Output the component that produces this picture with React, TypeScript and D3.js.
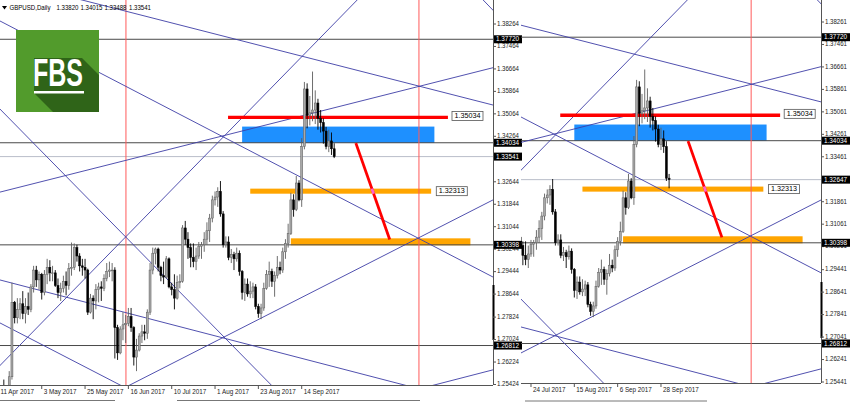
import React from "react";
import * as d3 from "d3";

// ---------------- DATA ----------------
// daily GBPUSD bars, index 0 = 11 Apr 2017 ... index 123 = 29 Sep 2017
const openP = [
  1.2410, 1.2475, 1.2525, 1.2505, 1.2530, 1.2570, 1.2835, 1.2780, 1.2810, 1.2830,
  1.2795, 1.2820, 1.2810, 1.2890, 1.2950, 1.2915, 1.2935, 1.2870, 1.2935, 1.2960,
  1.2940, 1.2940, 1.2895, 1.2870, 1.2885, 1.2910, 1.2895, 1.2955, 1.2960, 1.3030,
  1.3000, 1.2965, 1.2960, 1.2950, 1.2800, 1.2850, 1.2840, 1.2880, 1.2890, 1.2885,
  1.2920, 1.2945, 1.2950, 1.2950, 1.2745, 1.2655, 1.2740, 1.2755, 1.2760, 1.2785,
  1.2745, 1.2640, 1.2665, 1.2715, 1.2730, 1.2725, 1.2800, 1.2950, 1.3010, 1.3025,
  1.2960, 1.2930, 1.2925, 1.2990, 1.2890, 1.2880, 1.2850, 1.2905, 1.2910, 1.3100,
  1.3060, 1.3030, 1.2995, 1.2980, 1.3000, 1.3035, 1.3040, 1.3060, 1.3090, 1.3135,
  1.3200, 1.3210, 1.3230, 1.3150, 1.3040, 1.3050, 1.2995, 1.3005, 1.2990, 1.3010,
  1.2945, 1.2870, 1.2900, 1.2865, 1.2875, 1.2890, 1.2820, 1.2795, 1.2815, 1.2885,
  1.2935, 1.2945, 1.2910, 1.2930, 1.2960, 1.2950, 1.3015, 1.3045, 1.3080, 1.3200,
  1.3165, 1.3260, 1.3200, 1.3390, 1.3595, 1.3500, 1.3510, 1.3520, 1.3545, 1.3490,
  1.3475, 1.3445, 1.3390, 1.3410,
];
const highP = [
  1.2490, 1.2530, 1.2560, 1.2540, 1.2590, 1.2905, 1.2840, 1.2850, 1.2850, 1.2875,
  1.2850, 1.2870, 1.2900, 1.2965, 1.2965, 1.2945, 1.2940, 1.2950, 1.2990, 1.2985,
  1.2965, 1.2950, 1.2920, 1.2905, 1.2930, 1.2945, 1.2975, 1.3048, 1.3045, 1.3040,
  1.3010, 1.2990, 1.2990, 1.2955, 1.2865, 1.2860, 1.2900, 1.2905, 1.2910, 1.2935,
  1.2975, 1.2980, 1.2975, 1.2960, 1.2755, 1.2750, 1.2800, 1.2790, 1.2815, 1.2815,
  1.2750, 1.2705, 1.2725, 1.2755, 1.2755, 1.2810, 1.2975, 1.3030, 1.3030, 1.3030,
  1.2965, 1.2980, 1.3000, 1.2995, 1.2905, 1.2935, 1.2930, 1.2935, 1.3110, 1.3125,
  1.3085, 1.3045, 1.3045, 1.3030, 1.3050, 1.3050, 1.3085, 1.3120, 1.3150, 1.3215,
  1.3230, 1.3245, 1.3267, 1.3160, 1.3070, 1.3070, 1.3025, 1.3015, 1.3030, 1.3020,
  1.2950, 1.2920, 1.2920, 1.2910, 1.2905, 1.2900, 1.2830, 1.2830, 1.2905, 1.2950,
  1.2980, 1.2955, 1.2945, 1.3000, 1.2980, 1.3030, 1.3060, 1.3115, 1.3225, 1.3220,
  1.3285, 1.3270, 1.3420, 1.3620, 1.3615, 1.3570, 1.3657, 1.3590, 1.3560, 1.3520,
  1.3490, 1.3460, 1.3450, 1.3440,
];
const lowP = [
  1.2390, 1.2440, 1.2480, 1.2495, 1.2515, 1.2560, 1.2760, 1.2760, 1.2775, 1.2775,
  1.2760, 1.2790, 1.2800, 1.2870, 1.2890, 1.2880, 1.2845, 1.2860, 1.2900, 1.2910,
  1.2910, 1.2890, 1.2850, 1.2840, 1.2870, 1.2860, 1.2880, 1.2930, 1.2950, 1.2980,
  1.2945, 1.2930, 1.2920, 1.2790, 1.2795, 1.2775, 1.2810, 1.2835, 1.2840, 1.2875,
  1.2910, 1.2925, 1.2910, 1.2635, 1.2630, 1.2650, 1.2700, 1.2690, 1.2750, 1.2730,
  1.2610, 1.2590, 1.2660, 1.2690, 1.2700, 1.2705, 1.2790, 1.2935, 1.2970, 1.2945,
  1.2910, 1.2900, 1.2920, 1.2885, 1.2860, 1.2810, 1.2845, 1.2885, 1.2905, 1.3040,
  1.2990, 1.2960, 1.2960, 1.2950, 1.2990, 1.2990, 1.3015, 1.3040, 1.3050, 1.3120,
  1.3180, 1.3175, 1.3140, 1.3030, 1.3030, 1.2985, 1.2975, 1.2950, 1.2980, 1.2930,
  1.2845, 1.2840, 1.2855, 1.2850, 1.2850, 1.2810, 1.2780, 1.2775, 1.2805, 1.2880,
  1.2890, 1.2890, 1.2855, 1.2920, 1.2935, 1.2940, 1.2990, 1.3030, 1.3075, 1.3140,
  1.3160, 1.3195, 1.3175, 1.3380, 1.3455, 1.3465, 1.3480, 1.3470, 1.3450, 1.3440,
  1.3400, 1.3380, 1.3370, 1.3360,
];
const closeP = [
  1.2475, 1.2525, 1.2505, 1.2530, 1.2570, 1.2835, 1.2780, 1.2810, 1.2830, 1.2795,
  1.2820, 1.2810, 1.2890, 1.2950, 1.2915, 1.2935, 1.2870, 1.2935, 1.2960, 1.2940,
  1.2940, 1.2895, 1.2870, 1.2885, 1.2910, 1.2895, 1.2955, 1.2960, 1.3030, 1.3000,
  1.2965, 1.2960, 1.2950, 1.2800, 1.2850, 1.2840, 1.2880, 1.2890, 1.2885, 1.2920,
  1.2945, 1.2950, 1.2950, 1.2745, 1.2655, 1.2740, 1.2755, 1.2760, 1.2785, 1.2745,
  1.2640, 1.2665, 1.2715, 1.2730, 1.2725, 1.2800, 1.2950, 1.3010, 1.3025, 1.2960,
  1.2930, 1.2925, 1.2990, 1.2890, 1.2880, 1.2850, 1.2905, 1.2910, 1.3100, 1.3060,
  1.3030, 1.2995, 1.2980, 1.3000, 1.3035, 1.3040, 1.3060, 1.3090, 1.3135, 1.3200,
  1.3210, 1.3230, 1.3150, 1.3040, 1.3050, 1.2995, 1.3005, 1.2990, 1.3010, 1.2945,
  1.2870, 1.2900, 1.2865, 1.2875, 1.2890, 1.2820, 1.2795, 1.2815, 1.2885, 1.2935,
  1.2945, 1.2910, 1.2930, 1.2960, 1.2950, 1.3015, 1.3045, 1.3080, 1.3200, 1.3165,
  1.3260, 1.3200, 1.3390, 1.3595, 1.3500, 1.3510, 1.3520, 1.3545, 1.3490, 1.3475,
  1.3445, 1.3390, 1.3410, 1.3382,
];
// live bar (2 Oct) in the left snapshot: O H L C
const leftLiveBar = [1.3382, 1.34015, 1.33488, 1.33541];
// last two bars (2 Oct, 3 Oct) in the right snapshot
const rightTailOpen = [1.3382, 1.327];
const rightTailHigh = [1.34015, 1.3285];
const rightTailLow = [1.326, 1.3234];
const rightTailClose = [1.327, 1.32647];

const leftPriceTicks = ["1.38264", "1.37464", "1.36664", "1.35864", "1.35064", "1.34264", "1.32644", "1.31844", "1.31044", "1.30244", "1.29444", "1.28644", "1.27824", "1.27024", "1.26224", "1.25424"];
const rightPriceTicks = ["1.38261", "1.37461", "1.36661", "1.35861", "1.35061", "1.34261", "1.33461", "1.31861", "1.31061", "1.30261", "1.29441", "1.28641", "1.27841", "1.27041", "1.26241", "1.25441"];
const leftDateIdx = [0, 16, 32, 48, 64, 80, 96, 112];
const leftDateLabels = ["11 Apr 2017", "3 May 2017", "25 May 2017", "16 Jun 2017", "10 Jul 2017", "1 Aug 2017", "23 Aug 2017", "14 Sep 2017"];
const rightDateIdx = [74, 90, 106, 122];
const rightDateLabels = ["24 Jul 2017", "15 Aug 2017", "6 Sep 2017", "28 Sep 2017"];

const levelPrices = [1.3772, 1.34034, 1.30398, 1.26812];
const levelLabels = ["1.37720", "1.34034", "1.30398", "1.26812"];
const leftBid = 1.33541;
const rightBid = 1.32647;

// trend lines as (bar index, price) anchors
const trendIdxA = [0.59, 15.4, 9.8, 33.8, 71.8, 0.59, 0.59, 48.6, 159.5, 179];
const trendPriceA = [1.38371, 1.3378, 1.2701, 1.39047, 1.3401, 1.29147, 1.27616, 1.25408, 1.2537, 1.3912];
const trendIdxB = [182.6, 100.3, 109.5, 182.6, 181.5, 149.8, 44.9, 182.6, 182, 182];
const trendPriceB = [1.29254, 1.2545, 1.3685, 1.35379, 1.3668, 1.25408, 1.25408, 1.31996, 1.2593, 1.3882];
const verticalIdx = [47.1, 155.3];

const resistIdx = [84.8, 166];
const resistPrice = 1.3494;
const zoneIdx = [90, 161];
const zonePrice = [1.3403, 1.3461];
const support1Idx = [93, 159.8];
const support1Price = [1.3222, 1.324];
const support2Idx = [108, 174.3];
const support2Price = [1.3038, 1.3063];
const arrowIdx = [132, 144.5];
const arrowPrice = [1.3402, 1.3059];
const tagIdx = [167.5, 161.7];
const tagPrice = [1.3499, 1.3231];
const tagText = ["1.35034", "1.32313"];

const headerSymbol = "GBPUSD,Daily";
const headerValues = ["1.33820", "1.34015", "1.33488", "1.33541"];

// ---------------- DRAWING ----------------
const FONT = "'Liberation Sans', Arial, sans-serif";
const FS = 6.8;
const PRICE_W = 22;

type Bar = { i: number; o: number; h: number; l: number; c: number };

function buildBars(from: number, tail: Bar[]): Bar[] {
  const out: Bar[] = [];
  for (let i = from; i < openP.length; i++) {
    out.push({ i, o: openP[i], h: highP[i], l: lowP[i], c: closeP[i] });
  }
  return out.concat(tail);
}

type Frame = { x0: number; x1: number; y0: number; y1: number };

function Panel(props: {
  id: string;
  frame: Frame;
  x: d3.ScaleLinear<number, number>;
  y: d3.ScaleLinear<number, number>;
  bars: Bar[];
  priceTicks: string[];
  dateIdx: number[];
  dateLabels: string[];
  bid: number;
  bidLabel: string;
  scrollTop: number;
  scrollBottom: number;
}) {
  const { id, frame, x, y, bars, priceTicks, dateIdx, dateLabels, bid, bidLabel } = props;
  const clip = `clip-${id}`;
  const lineGen = d3.line<[number, number]>().x((d) => x(d[0])).y((d) => y(d[1]));

  const trends = trendIdxA.map((ia, k) => {
    const slope = (trendPriceB[k] - trendPriceA[k]) / (trendIdxB[k] - ia);
    const p0 = -80, p1 = 280;
    const pts: [number, number][] = [
      [p0, trendPriceA[k] + slope * (p0 - ia)],
      [p1, trendPriceA[k] + slope * (p1 - ia)],
    ];
    return lineGen(pts) as string;
  });

  const aSlope = (arrowPrice[1] - arrowPrice[0]) / (arrowIdx[1] - arrowIdx[0]);
  const idxAt = (p: number) => arrowIdx[0] + (p - arrowPrice[0]) / aSlope;
  const pinkPts: [number, number][] = [
    [idxAt(support1Price[1]), support1Price[1]],
    [idxAt(support1Price[0]), support1Price[0]],
  ];

  const axisX = frame.x1;
  const labelX = axisX + 4;
  const boxW = 28;
  const boxH = 8;

  return (
    <g>
      <defs>
        <clipPath id={clip}>
          <rect x={frame.x0} y={frame.y0} width={frame.x1 - frame.x0} height={frame.y1 - frame.y0} />
        </clipPath>
      </defs>
      <g clipPath={`url(#${clip})`}>
        <rect x={x(zoneIdx[0])} y={y(zonePrice[1])} width={x(zoneIdx[1]) - x(zoneIdx[0])} height={y(zonePrice[0]) - y(zonePrice[1])} fill="#1e90ff" />
        <rect x={x(support1Idx[0])} y={y(support1Price[1])} width={x(support1Idx[1]) - x(support1Idx[0])} height={y(support1Price[0]) - y(support1Price[1])} fill="#ffa500" />
        <rect x={x(support2Idx[0])} y={y(support2Price[1])} width={x(support2Idx[1]) - x(support2Idx[0])} height={y(support2Price[0]) - y(support2Price[1])} fill="#ffa500" />
        {levelPrices.map((p, k) => (
          <line key={k} x1={frame.x0} x2={frame.x1} y1={y(p)} y2={y(p)} stroke="#4a4a4a" strokeWidth={1} />
        ))}
        <line x1={frame.x0} x2={frame.x1} y1={y(bid)} y2={y(bid)} stroke="#b9bdc9" strokeWidth={1} />
        {verticalIdx.map((vi, k) => (
          <line key={k} x1={x(vi)} x2={x(vi)} y1={frame.y0} y2={frame.y1} stroke="#ff5a5a" strokeWidth={1} />
        ))}
        {trends.map((d, k) => (
          <path key={k} d={d} fill="none" stroke="#3d3da6" strokeWidth={0.9} />
        ))}
        <line x1={x(resistIdx[0])} x2={x(resistIdx[1])} y1={y(resistPrice)} y2={y(resistPrice)} stroke="#ff0000" strokeWidth={3.4} />
        <line x1={x(arrowIdx[0])} y1={y(arrowPrice[0])} x2={x(arrowIdx[1])} y2={y(arrowPrice[1])} stroke="#ff0000" strokeWidth={2.8} />
        <path d={lineGen(pinkPts) as string} stroke="#ff66cc" strokeWidth={2.8} fill="none" />
        {bars.map((b) => {
          const cx = x(b.i);
          const bull = b.c >= b.o;
          const top = y(Math.max(b.o, b.c));
          const bot = y(Math.min(b.o, b.c));
          const col = bull ? "#5e5e5e" : "#000";
          return (
            <g key={b.i}>
              <line x1={cx} x2={cx} y1={y(b.h)} y2={y(b.l)} stroke={col} strokeWidth={0.9} />
              <rect x={cx - 1} y={top} width={2} height={Math.max(bot - top, 0.8)} fill={bull ? "#a8a8a8" : "#000"} stroke={col} strokeWidth={0.5} />
            </g>
          );
        })}
        {tagIdx.map((ti, k) => (
          <g key={k}>
            <rect x={x(ti)} y={y(tagPrice[k]) - 4.5} width={31} height={9} fill="#fff" stroke="#555" strokeWidth={0.8} />
            <text x={x(ti) + 15.5} y={y(tagPrice[k]) + 0.3} fontFamily={FONT} fontSize={FS} textAnchor="middle" dominantBaseline="middle" fill="#000" textLength={26} lengthAdjust="spacingAndGlyphs">
              {tagText[k]}
            </text>
          </g>
        ))}
      </g>

      <line x1={axisX + 0.5} x2={axisX + 0.5} y1={0} y2={frame.y1} stroke="#555" strokeWidth={1} />
      <line x1={frame.x0} x2={axisX} y1={frame.y1 + 0.5} y2={frame.y1 + 0.5} stroke="#555" strokeWidth={1} />
      <rect x={axisX - 0.5} y={props.scrollTop} width={2} height={props.scrollBottom - props.scrollTop} fill="#000" />
      {priceTicks.map((t, k) => (
        <g key={k}>
          <line x1={axisX} x2={axisX + 3} y1={y(+t)} y2={y(+t)} stroke="#555" strokeWidth={1} />
          <text x={labelX} y={y(+t)} fontFamily={FONT} fontSize={FS} dominantBaseline="middle" fill="#222" textLength={PRICE_W} lengthAdjust="spacingAndGlyphs">
            {t}
          </text>
        </g>
      ))}
      {levelPrices.map((p, k) => (
        <g key={k}>
          <rect x={axisX + 1} y={y(p) - boxH / 2} width={boxW} height={boxH} fill="#000" />
          <text x={labelX - 1} y={y(p) + 0.3} fontFamily={FONT} fontSize={FS} dominantBaseline="middle" fill="#fff" textLength={PRICE_W + 1} lengthAdjust="spacingAndGlyphs">
            {levelLabels[k]}
          </text>
        </g>
      ))}
      <rect x={axisX + 1} y={y(bid) - boxH / 2} width={boxW} height={boxH} fill="#000" />
      <text x={labelX - 1} y={y(bid) + 0.3} fontFamily={FONT} fontSize={FS} dominantBaseline="middle" fill="#fff" textLength={PRICE_W + 1} lengthAdjust="spacingAndGlyphs">
        {bidLabel}
      </text>
      {dateIdx.map((di, k) => (
        <g key={k}>
          <line x1={x(di)} x2={x(di)} y1={frame.y1} y2={frame.y1 + 4} stroke="#555" strokeWidth={1} />
          <text x={x(di) + 2} y={frame.y1 + 7.5} fontFamily={FONT} fontSize={6.3} dominantBaseline="middle" fill="#222">
            {dateLabels[k]}
          </text>
        </g>
      ))}
    </g>
  );
}

function Logo() {
  return (
    <g>
      <rect x={16} y={30} width={83} height={82} fill="#529b2c" />
      <polygon points="34,58 82,58 99,75 99,112 53,112 34,93" fill="#2f6418" />
      <text x={33} y={86} fontFamily="'Liberation Sans', Arial, sans-serif" fontWeight="bold" fontSize={38} fill="#fff" textLength={50} lengthAdjust="spacingAndGlyphs">
        FBS
      </text>
      <rect x={34} y={91} width={50} height={2.5} fill="#fff" />
    </g>
  );
}

export default function App() {
  const leftX = d3.scaleLinear().domain([0, 125]).range([-1.6, 336.9]);
  const leftY = d3.scaleLinear().domain([1.25424, 1.38264]).range([384.5, 24]);
  const rightX = d3.scaleLinear().domain([0, 125]).range([330.6, 669.1]);
  const rightY = d3.scaleLinear().domain([1.25441, 1.38261]).range([382, 22]);

  const leftBars = buildBars(0, [{ i: 124, o: leftLiveBar[0], h: leftLiveBar[1], l: leftLiveBar[2], c: leftLiveBar[3] }]);
  const rightBars = buildBars(
    70,
    rightTailOpen.map((o, k) => ({ i: 124 + k, o, h: rightTailHigh[k], l: rightTailLow[k], c: rightTailClose[k] }))
  );

  const headerX = [56.5, 80.5, 104.5, 129];

  return (
    <svg width={850} height={402} style={{ position: "absolute", left: 0, top: 0, background: "#fff" }}>
      <rect x={0} y={0} width={850} height={402} fill="#fff" />
      <Panel
        id="L"
        frame={{ x0: 0, x1: 493, y0: 0, y1: 385 }}
        x={leftX}
        y={leftY}
        bars={leftBars}
        priceTicks={leftPriceTicks}
        dateIdx={leftDateIdx}
        dateLabels={leftDateLabels}
        bid={leftBid}
        bidLabel="1.33541"
        scrollTop={285}
        scrollBottom={340}
      />
      <Panel
        id="R"
        frame={{ x0: 521, x1: 821, y0: 0, y1: 383 }}
        x={rightX}
        y={rightY}
        bars={rightBars}
        priceTicks={rightPriceTicks}
        dateIdx={rightDateIdx}
        dateLabels={rightDateLabels}
        bid={rightBid}
        bidLabel="1.32647"
        scrollTop={282}
        scrollBottom={338}
      />
      <Logo />
      <path d="M2,6 L7,6 L4.5,9.5 Z" fill="#000" />
      <text x={9.5} y={8} fontFamily={FONT} fontSize={7} dominantBaseline="middle" fill="#000" textLength={41} lengthAdjust="spacingAndGlyphs">
        {headerSymbol}
      </text>
      {headerValues.map((v, k) => (
        <text key={k} x={headerX[k]} y={8} fontFamily={FONT} fontSize={7} dominantBaseline="middle" fill="#000" textLength={22} lengthAdjust="spacingAndGlyphs">
          {v}
        </text>
      ))}
      <line x1={0} x2={115} y1={400.5} y2={400.5} stroke="#777" />
      <line x1={177} x2={420} y1={400.5} y2={400.5} stroke="#777" />
      <line x1={525} x2={707} y1={401} y2={401} stroke="#777" />
    </svg>
  );
}
